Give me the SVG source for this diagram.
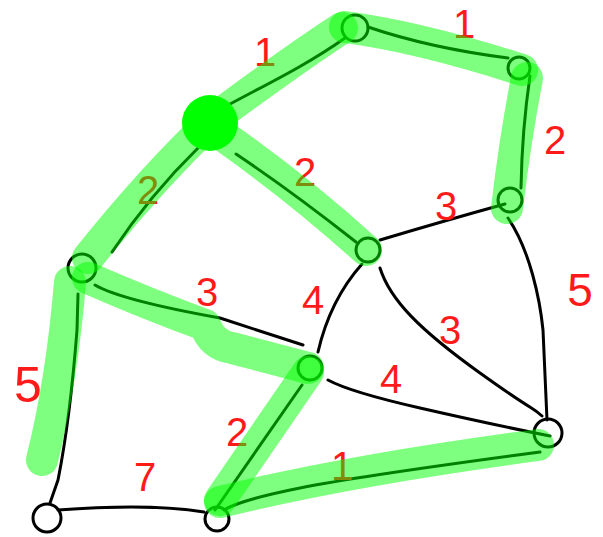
<svg xmlns="http://www.w3.org/2000/svg" width="603" height="537" viewBox="0 0 603 537">
<style>
.e{fill:none;stroke:#000;stroke-width:3;stroke-linecap:round;stroke-linejoin:round}
.n{fill:none;stroke:#000;stroke-width:3}
.h{fill:none;stroke:#00ff00;stroke-opacity:0.5;stroke-width:32;stroke-linecap:round;stroke-linejoin:round}
.w{font-family:"Liberation Sans",Arial,sans-serif;font-size:40px;fill:#ff1a1a;text-anchor:middle}
</style>
<rect width="603" height="537" fill="#fff"/>
<g id="connectors">
<path class="e" d="M214,113 C250,92 300,70 345,38"/>
<path class="e" d="M368,27 Q430,48 508,58"/>
<path class="e" d="M530,76 Q522,130 521,188"/>
<path class="e" d="M198,148 Q150,195 112,252"/>
<path class="e" d="M236,154 Q290,190 356,242"/>
<path class="e" d="M380,240 Q447,220 505,204"/>
<path class="e" d="M508,218 C530,250 540,300 543,330 L547,420"/>
<path class="e" d="M362,264 Q330,300 318,352"/>
<path class="e" d="M380,268 C390,300 420,330 480,373 S530,405 542,416"/>
<path class="e" d="M95,285 Q120,300 220,318 L303,345"/>
<path class="e" d="M78,294 L77,330 Q70,420 58,480 L50,503"/>
<path class="e" d="M328,380 Q350,392 420,408 T550,436"/>
<path class="e" d="M302,385 Q260,445 215,510"/>
<path class="e" d="M224,510 Q240,500 300,488 T540,452"/>
<path class="e" d="M58,510 Q150,503 204,512"/>
</g>
<g id="node-A"><circle class="n" cx="355" cy="28" r="13"/></g>
<g id="node-B"><circle class="n" cx="519" cy="68" r="11"/></g>
<g id="node-D"><circle class="n" cx="510" cy="200" r="12"/></g>
<g id="node-E"><circle class="n" cx="368" cy="250" r="12"/></g>
<g id="node-F"><circle class="n" cx="82" cy="268" r="14"/></g>
<g id="node-G"><circle class="n" cx="310" cy="368" r="12"/></g>
<g id="node-H"><circle class="n" cx="548" cy="433" r="14"/></g>
<g id="node-I"><circle class="n" cx="47" cy="518" r="14"/></g>
<g id="node-J"><circle class="n" cx="217" cy="519" r="12"/></g>
<g id="labels">
<text class="w" x="265" y="66">1</text>
<text class="w" x="464" y="38">1</text>
<text class="w" x="555" y="154">2</text>
<text class="w" x="148" y="204">2</text>
<text class="w" x="305" y="186">2</text>
<text class="w" x="446" y="220">3</text>
<text class="w" x="580" y="306" style="font-size:46px">5</text>
<text class="w" x="313" y="314">4</text>
<text class="w" x="450" y="344">3</text>
<text class="w" x="207" y="306">3</text>
<text class="w" x="391" y="393">4</text>
<text class="w" x="28" y="402" style="font-size:50px">5</text>
<text class="w" x="237" y="446">2</text>
<text class="w" x="145" y="491">7</text>
<text class="w" x="342" y="480">1</text>
</g>
<g id="mst-highlight">
<path class="h" d="M342,28 Q290,62 215,118 Q150,180 88,258"/>
<path class="h" d="M345,27 Q420,37 522,70"/>
<path class="h" d="M527,78 Q515,140 507,208"/>
<path class="h" d="M222,135 Q300,190 366,250"/>
<path class="h" d="M70,282 Q62,380 42,460"/>
<path class="h" d="M88,278 Q150,305 205,325 Q212,345 232,348 L308,368"/>
<path class="h" d="M308,372 L220,500"/>
<path class="h" d="M220,502 Q350,470 538,445"/>
</g>
<g id="node-C"><circle cx="210" cy="123" r="28" fill="#00ff00"/></g>
</svg>
